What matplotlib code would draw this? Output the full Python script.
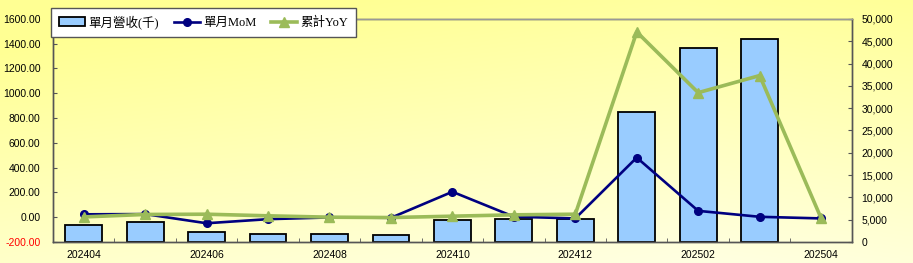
import numpy as np
import matplotlib.pyplot as plt
from matplotlib.ticker import FuncFormatter, FixedLocator

plt.rcParams['font.family'] = ['Liberation Sans', 'Noto Sans CJK TC', 'DejaVu Sans']

# data
months = ['202404', '202405', '202406', '202407', '202408', '202409', '202410',
          '202411', '202412', '202501', '202502', '202503', '202504']
revenue = [3700, 4400, 2250, 1800, 1800, 1650, 4950, 5250, 5100, 29200, 43400, 45600, np.nan]
mom = [23, 25, -49, -16, -2, -5, 205, 4, -10, 481, 51, 3, -10]
yoy = [2, 22, 24, 11, 0, -3, 8, 19, 24, 1495, 1005, 1143, -8]

x = np.arange(len(months))

fig = plt.figure(figsize=(9.13, 2.63), dpi=100)

# yellow gradient background
bg = fig.add_axes([0, 0, 1, 1], zorder=-10)
gy = np.linspace(0, 1, 100)[:, None]
gx = np.linspace(0, 1, 200)[None, :]
t = np.clip(0.15 + 0.8 * gy - 0.4 * np.abs(gx - 0.75), 0, 1)
top = np.array([1.0, 1.0, 0.58])
low = np.array([1.0, 1.0, 0.90])
img = top[None, None, :] * (1 - t[..., None]) + low[None, None, :] * t[..., None]
bg.imshow(img, aspect='auto', extent=[0, 1, 0, 1])
bg.axis('off')

ax = fig.add_axes([0.058, 0.080, 0.875, 0.848])
ax2 = ax.twinx()

# bars on the right axis, lines on the left axis
ax.set_zorder(2)
ax.patch.set_alpha(0)
ax2.set_zorder(1)
ax2.patch.set_facecolor('white')

bars = ax2.bar(x, revenue, width=0.6, color='#99CCFF', edgecolor='black', linewidth=1.3)
l1, = ax.plot(x, mom, color='#000080', lw=1.9, marker='o', ms=5.5, label='單月MoM')
l2, = ax.plot(x, yoy, color='#9BBB59', lw=2.6, marker='^', ms=7.5, label='累計YoY')

ax.set_xlim(-0.5, len(months) - 0.5)
ax.set_ylim(-200, 1600)
ax.set_yticks(np.arange(-200, 1601, 200))
ax2.set_ylim(0, 50000)
ax2.set_yticks(np.arange(0, 50001, 5000))

ax.yaxis.set_major_formatter(FuncFormatter(lambda v, p: f'{v:.2f}'))
ax2.yaxis.set_major_formatter(FuncFormatter(lambda v, p: f'{int(v):,}'))

ax.set_xticks(x[::2])
ax.set_xticklabels(months[::2])
ax.xaxis.set_minor_locator(FixedLocator(np.arange(0.5, len(months) - 0.5, 1)))
ax.tick_params(axis='x', which='major', length=0, pad=6, labelsize=7.5)
ax.tick_params(axis='x', which='minor', direction='in', length=3, color='#555555')
ax.tick_params(axis='y', direction='in', length=3, labelsize=7.5, color='#555555', pad=9)
ax2.tick_params(axis='y', direction='in', length=3, labelsize=7.5, color='#555555', pad=7)
for lab in ax.get_yticklabels():
    if lab.get_text().startswith('-'):
        lab.set_color('red')

for a in (ax, ax2):
    for s in a.spines.values():
        s.set_color('#555555')
        s.set_linewidth(1)
ax.spines['top'].set_color('#999999')

leg = ax.legend([bars, l1, l2], ['單月營收(千)', '單月MoM', '累計YoY'], ncol=3,
                loc='upper left', bbox_to_anchor=(-0.010, 1.078), frameon=True,
                fancybox=False, edgecolor='#555555', framealpha=1,
                prop={'family': ['Liberation Serif', 'Noto Sans CJK TC'], 'size': 9},
                handlelength=2.1, columnspacing=1.2, borderpad=0.6, handletextpad=0.25)
leg.get_frame().set_linewidth(1)

fig.savefig('out.png', dpi=100)
